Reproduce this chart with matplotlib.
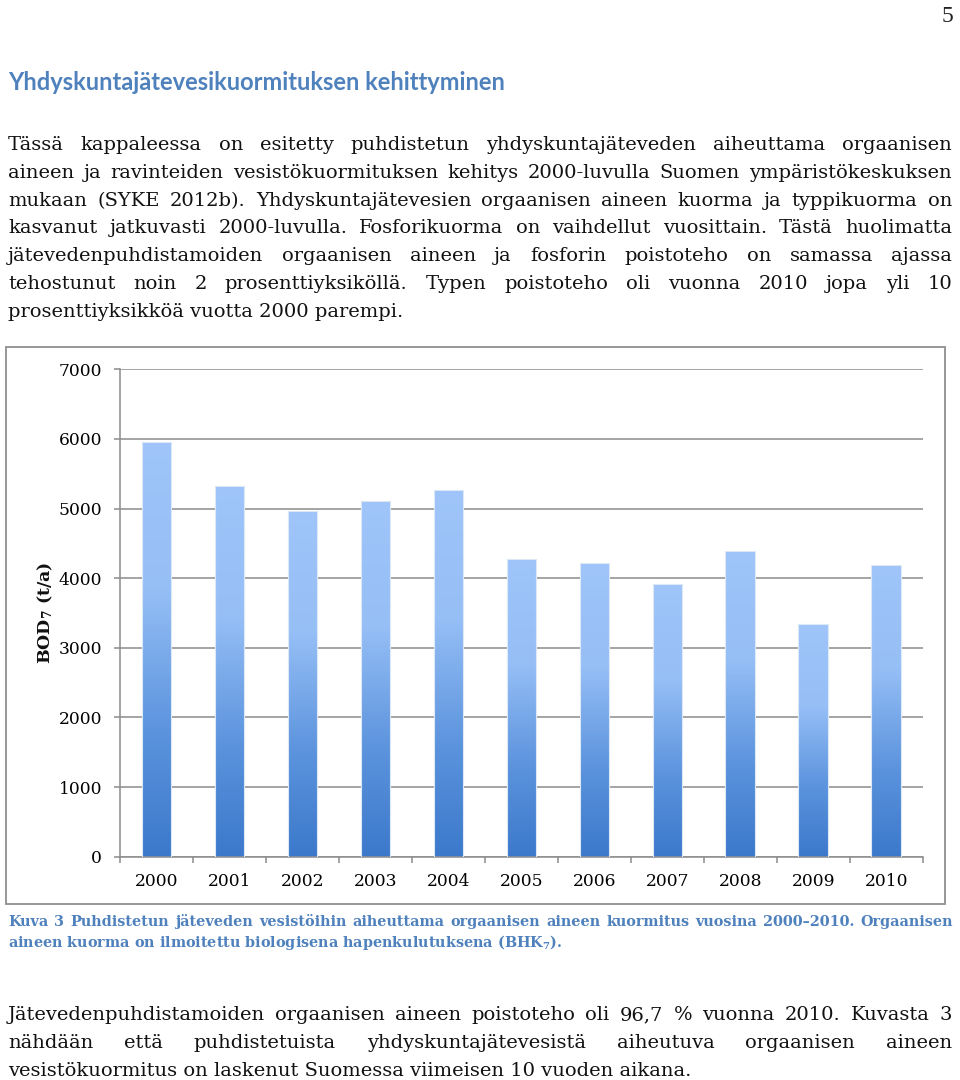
import numpy as np
import matplotlib
matplotlib.use('Agg')
import matplotlib.pyplot as plt
from matplotlib.patches import Rectangle
from matplotlib.colors import LinearSegmentedColormap

# Data: BOD7 load (t/a) by year
years = ['2000', '2001', '2002', '2003', '2004', '2005', '2006', '2007', '2008', '2009', '2010']
bod7 = [5950, 5330, 4965, 5105, 5265, 4280, 4215, 3910, 4390, 3340, 4190]
yticks = [0, 1000, 2000, 3000, 4000, 5000, 6000, 7000]

heading = 'Yhdyskuntajätevesikuormituksen kehittyminen'
para1 = [
    'Tässä kappaleessa on esitetty puhdistetun yhdyskuntajäteveden aiheuttama orgaanisen',
    'aineen ja ravinteiden vesistökuormituksen kehitys 2000-luvulla Suomen ympäristökeskuksen',
    'mukaan (SYKE 2012b). Yhdyskuntajätevesien orgaanisen aineen kuorma ja typpikuorma on',
    'kasvanut jatkuvasti 2000-luvulla. Fosforikuorma on vaihdellut vuosittain. Tästä huolimatta',
    'jätevedenpuhdistamoiden orgaanisen aineen ja fosforin poistoteho on samassa ajassa',
    'tehostunut noin 2 prosenttiyksiköllä. Typen poistoteho oli vuonna 2010 jopa yli 10',
    'prosenttiyksikköä vuotta 2000 parempi.',
]
caption = [
    'Kuva 3 Puhdistetun jäteveden vesistöihin aiheuttama orgaanisen aineen kuormitus vuosina 2000–2010. Orgaanisen',
    r'aineen kuorma on ilmoitettu biologisena hapenkulutuksena (BHK$_{\mathbf{7}}$).',
]
para2 = [
    'Jätevedenpuhdistamoiden orgaanisen aineen poistoteho oli 96,7 % vuonna 2010.  Kuvasta 3',
    'nähdään että puhdistetuista yhdyskuntajätevesistä aiheutuva orgaanisen aineen',
    'vesistökuormitus on laskenut Suomessa viimeisen 10 vuoden aikana.',
]

plt.rcParams['mathtext.fontset'] = 'dejavuserif'

W, H = 960, 1080
fig = plt.figure(figsize=(W / 100, H / 100), dpi=100)
renderer = fig.canvas.get_renderer()

BLUE = '#4F81BD'
GRID = '#8C8C8C'


def px(x, y):
    return x / W, 1 - y / H


def text_lines(lines, x0, x1, y0, dy, **kw):
    # justified paragraph, last line left aligned
    for i, line in enumerate(lines):
        y = y0 + i * dy
        if i == len(lines) - 1:
            fig.text(*px(x0, y), line, ha='left', va='baseline', **kw)
            continue
        words = line.split()
        widths = []
        for w in words:
            t = fig.text(0, 0, w, **kw)
            widths.append(t.get_window_extent(renderer).width)
            t.remove()
        gap = (x1 - x0 - sum(widths)) / (len(words) - 1)
        x = x0
        for w, wd in zip(words, widths):
            fig.text(*px(x, y), w, ha='left', va='baseline', **kw)
            x += wd + gap


# page number and heading
fig.text(*px(953, 22), '5', ha='right', va='baseline', fontsize=17,
         family='Liberation Serif', color='#222222')
fig.text(*px(8, 90), heading, ha='left', va='baseline', fontsize=17,
         family='Lato', fontweight='bold', color=BLUE)

body = dict(fontsize=14, family='DejaVu Serif', color='#111111')
text_lines(para1, 8, 952, 150, 27.8, **body)
text_lines(para2, 8, 952, 1020, 27.8, **body)

cap = dict(fontsize=10.4, family='DejaVu Serif', fontweight='bold', color=BLUE)
text_lines(caption, 8, 953, 926, 21, **cap)

# chart frame
fig.patches.append(Rectangle(px(6, 904), 939 / W, 557 / H, transform=fig.transFigure,
                             fill=False, edgecolor='#8F8F8F', linewidth=1.3))

ax_l, ax_r, ax_t, ax_b = 120, 922.7, 369.3, 856.7
ax = fig.add_axes([ax_l / W, 1 - ax_b / H, (ax_r - ax_l) / W, (ax_b - ax_t) / H])

x = np.arange(len(years))
bars = ax.bar(x, bod7, width=0.405, color='none', edgecolor='#DDE8F6', linewidth=0.8, zorder=3)

cmap = LinearSegmentedColormap.from_list(
    'grad', [(0, '#3C79CB'), (0.3, '#5B93DD'), (0.65, '#96BFF6'), (1, '#9FC5FA')])
grad = np.linspace(0, 1, 256).reshape(-1, 1)
for b in bars:
    bx, bw, bh = b.get_x(), b.get_width(), b.get_height()
    im = ax.imshow(grad, extent=[bx, bx + bw, 0, bh], origin='lower', aspect='auto',
                   cmap=cmap, zorder=2)
    im.set_clip_path(b)

ax.set_xlim(-0.5, len(years) - 0.5)
ax.set_ylim(0, 7000)
ax.set_yticks(yticks)
ax.set_yticklabels([str(v) for v in yticks], family='DejaVu Serif', fontsize=12.3)
ax.yaxis.grid(True, color=GRID, linewidth=1.1, zorder=1)
ax.set_axisbelow(True)

ax.set_xticks(np.arange(-0.5, len(years)), minor=False)
ax.set_xticklabels([])
ax.set_xticks(x, minor=True)
ax.set_xticklabels(years, minor=True, family='DejaVu Serif', fontsize=12.3)
ax.tick_params(axis='x', which='major', length=4.5, width=1.1, color=GRID, direction='out')
ax.tick_params(axis='x', which='minor', length=0, pad=12)
ax.tick_params(axis='y', length=4.5, width=1.1, color=GRID, direction='out', pad=8.5)

for s in ['top', 'right']:
    ax.spines[s].set_visible(False)
for s in ['left', 'bottom']:
    ax.spines[s].set_color(GRID)
    ax.spines[s].set_linewidth(1.1)

fig.text(*px(45, 613), r'BOD$_{\mathbf{7}}$ (t/a)', rotation=90, ha='center', va='center',
         fontsize=12.5, family='DejaVu Serif', fontweight='bold', color='#111111')

fig.savefig('out.png', dpi=100, facecolor='white')
